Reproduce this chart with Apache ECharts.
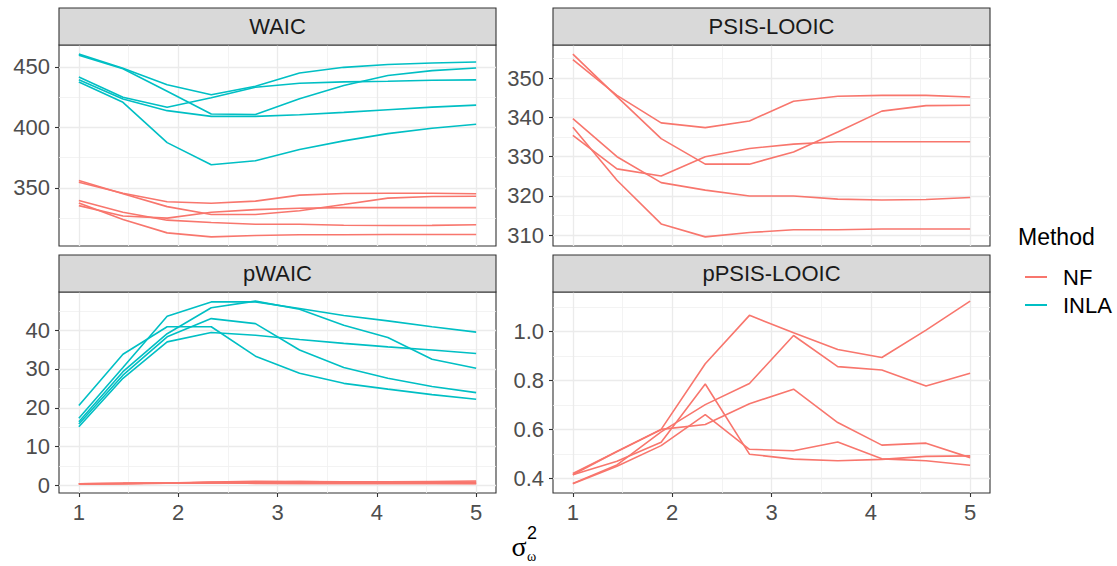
<!DOCTYPE html>
<html>
<head>
<meta charset="utf-8">
<title>Information criteria by sigma</title>
<script src="https://cdn.jsdelivr.net/npm/echarts@6/dist/echarts.min.js"></script>
<style>
  html, body { margin: 0; padding: 0; background: #fff; }
  #chart { width: 1117px; height: 566px; }
</style>
</head>
<body>
<div id="chart"></div>
<script>
// x values (sigma_omega^2), same for every run
const sigma2 = [1, 1.444, 1.889, 2.333, 2.778, 3.222, 3.667, 4.111, 4.556, 5];

// PSIS-LOOIC, NF runs
const psisNF = [
  [356.1, 345.3, 334.6, 328.1, 328.1, 331.2, 336.3, 341.6, 343.0, 343.1],
  [354.7, 345.6, 338.6, 337.4, 339.1, 344.1, 345.4, 345.6, 345.6, 345.2],
  [339.7, 330.0, 323.4, 321.5, 320.0, 320.0, 319.2, 319.0, 319.1, 319.6],
  [335.4, 326.9, 325.1, 330.0, 332.1, 333.2, 333.8, 333.8, 333.8, 333.8],
  [337.5, 324.0, 312.9, 309.6, 310.7, 311.4, 311.4, 311.6, 311.6, 311.6],
];
// WAIC, NF runs (same curves as PSIS-LOOIC in the picture)
const waicNF = psisNF;
// WAIC, INLA runs
const waicINLA = [
  [460.6, 449.0, 435.3, 427.0, 434.0, 445.0, 449.7, 452.0, 453.3, 454.1],
  [459.7, 448.5, 430.0, 411.1, 410.7, 423.7, 434.7, 443.0, 447.0, 449.2],
  [441.7, 425.0, 416.7, 424.6, 433.3, 436.6, 437.7, 438.2, 439.0, 439.3],
  [439.4, 423.6, 413.9, 409.2, 409.2, 410.5, 412.5, 414.7, 416.8, 418.5],
  [437.5, 420.8, 387.5, 369.2, 372.5, 381.8, 388.9, 394.9, 399.3, 402.6],
];
// pPSIS-LOOIC, NF runs
const ppsisNF = [
  [0.415, 0.510, 0.600, 0.868, 1.065, 0.994, 0.926, 0.893, 1.005, 1.123],
  [0.380, 0.455, 0.590, 0.701, 0.787, 0.983, 0.856, 0.842, 0.777, 0.829],
  [0.420, 0.510, 0.600, 0.620, 0.705, 0.764, 0.628, 0.536, 0.544, 0.485],
  [0.415, 0.470, 0.548, 0.785, 0.499, 0.479, 0.472, 0.478, 0.490, 0.492],
  [0.378, 0.450, 0.534, 0.660, 0.519, 0.513, 0.549, 0.480, 0.472, 0.454],
];
// pWAIC, NF runs (flat band near zero)
const pwaicNF = ppsisNF;
// pWAIC, INLA runs
const pwaicINLA = [
  [17.3, 30.4, 43.6, 47.3, 47.3, 45.6, 43.8, 42.4, 40.9, 39.5],
  [20.6, 33.8, 40.9, 40.9, 33.3, 28.9, 26.3, 24.8, 23.4, 22.2],
  [16.4, 29.3, 39.1, 45.8, 47.5, 45.4, 41.3, 38.1, 32.5, 30.2],
  [15.8, 28.4, 38.3, 43.0, 41.7, 34.9, 30.4, 27.6, 25.5, 23.9],
  [15.1, 27.6, 37.0, 39.4, 38.7, 37.6, 36.6, 35.7, 34.9, 34.0],
];

// tick values
const xMajor = [1, 2, 3, 4, 5];
const xMinor = [1.5, 2.5, 3.5, 4.5];
const waicTicks = [350, 400, 450];
const waicMinor = [325, 375, 425];
const psisTicks = [310, 320, 330, 340, 350];
const psisMinor = [315, 325, 335, 345, 355];
const pwaicTicks = [0, 10, 20, 30, 40];
const pwaicMinor = [5, 15, 25, 35, 45];
const ppsisTicks = [0.4, 0.6, 0.8, 1.0];
const ppsisMinor = [0.5, 0.7, 0.9, 1.1];

const colNF = '#F8766D';
const colINLA = '#00BFC4';
const FONT = '"Liberation Sans", Arial, sans-serif';
const STRIP_H = 37;

const panels = [
  { title: 'WAIC', nf: waicNF, inla: waicINLA, ticks: waicTicks, minor: waicMinor, dec: 0,
    left: 59, top: 45, bottom: false },
  { title: 'PSIS-LOOIC', nf: psisNF, inla: [], ticks: psisTicks, minor: psisMinor, dec: 0,
    left: 553, top: 45, bottom: false },
  { title: 'pWAIC', nf: pwaicNF, inla: pwaicINLA, ticks: pwaicTicks, minor: pwaicMinor, dec: 0,
    left: 59, top: 292, bottom: true },
  { title: 'pPSIS-LOOIC', nf: ppsisNF, inla: [], ticks: ppsisTicks, minor: ppsisMinor, dec: 1,
    left: 553, top: 292, bottom: true },
];
const PW = 437, PH = 201;

// ggplot-style 5% expansion
function expand(vals) {
  const lo = Math.min(...vals), hi = Math.max(...vals);
  const pad = (hi - lo) * 0.05;
  return [lo - pad, hi + pad];
}
const xRange = expand(sigma2);

const grids = [], xAxes = [], yAxes = [], series = [], graphics = [];

panels.forEach((p, i) => {
  grids.push({
    left: p.left, top: p.top, width: PW, height: PH,
    show: true, borderColor: '#333333', borderWidth: 1.1, backgroundColor: 'transparent'
  });
  const yRange = expand(p.nf.concat(p.inla).flat());

  // major x axis
  xAxes.push({
    type: 'value', gridIndex: i, min: xRange[0], max: xRange[1], position: 'bottom',
    axisLine: { show: false, onZero: false },
    axisTick: { show: p.bottom, length: 4, customValues: xMajor,
                lineStyle: { color: '#333333', width: 1.1 } },
    axisLabel: { show: p.bottom, customValues: xMajor, margin: 8,
                 fontSize: 22, color: '#4D4D4D', fontFamily: FONT },
    splitLine: { show: true, lineStyle: { color: '#EBEBEB', width: 1.3 } }
  });
  // minor x grid
  xAxes.push({
    type: 'value', gridIndex: i, min: xRange[0], max: xRange[1], position: 'bottom',
    axisLine: { show: false, onZero: false },
    axisTick: { show: false, customValues: xMinor },
    axisLabel: { show: false },
    splitLine: { show: true, lineStyle: { color: '#F0F0F0', width: 0.8 } }
  });
  // major y axis
  yAxes.push({
    type: 'value', gridIndex: i, min: yRange[0], max: yRange[1], position: 'left',
    axisLine: { show: false, onZero: false },
    axisTick: { show: true, length: 4, customValues: p.ticks,
                lineStyle: { color: '#333333', width: 1.1 } },
    axisLabel: { customValues: p.ticks, margin: 9, fontSize: 22, color: '#4D4D4D',
                 fontFamily: FONT, formatter: v => v.toFixed(p.dec) },
    splitLine: { show: true, lineStyle: { color: '#EBEBEB', width: 1.3 } }
  });
  // minor y grid
  yAxes.push({
    type: 'value', gridIndex: i, min: yRange[0], max: yRange[1], position: 'left',
    axisLine: { show: false, onZero: false },
    axisTick: { show: false, customValues: p.minor },
    axisLabel: { show: false },
    splitLine: { show: true, lineStyle: { color: '#F0F0F0', width: 0.8 } }
  });

  const addRun = (name, color) => run => series.push({
    name, type: 'line', xAxisIndex: 2 * i, yAxisIndex: 2 * i,
    data: sigma2.map((x, k) => [x, run[k]]),
    showSymbol: false, symbol: 'none', color,
    lineStyle: { color, width: 1.6 }, silent: true, z: 3
  });
  p.nf.forEach(addRun('NF', colNF));
  p.inla.forEach(addRun('INLA', colINLA));

  // facet strip
  graphics.push({
    type: 'rect', z: 10,
    shape: { x: p.left, y: p.top - STRIP_H, width: PW, height: STRIP_H },
    style: { fill: '#D9D9D9', stroke: '#333333', lineWidth: 1.1 }
  });
  graphics.push({
    type: 'text', z: 11, x: p.left + PW / 2, y: p.top - STRIP_H / 2,
    style: { text: p.title, fill: '#1A1A1A', font: '22px ' + FONT,
             textAlign: 'center', textVerticalAlign: 'middle',
             align: 'center', verticalAlign: 'middle' }
  });
});

// x axis title: sigma_omega^2
graphics.push({
  type: 'text', x: 519, y: 546,
  style: { text: 'σ', fill: '#000', font: '28px "Liberation Serif", serif',
           textAlign: 'center', textVerticalAlign: 'middle', align: 'center', verticalAlign: 'middle' }
});
graphics.push({
  type: 'text', x: 527, y: 533,
  style: { text: '2', fill: '#000', font: '18px ' + FONT,
           textAlign: 'left', textVerticalAlign: 'middle', align: 'left', verticalAlign: 'middle' }
});
graphics.push({
  type: 'text', x: 527, y: 556,
  style: { text: 'ω', fill: '#000', font: '14px "Liberation Serif", serif',
           textAlign: 'left', textVerticalAlign: 'middle', align: 'left', verticalAlign: 'middle' }
});
// legend title
graphics.push({
  type: 'text', x: 1018, y: 237,
  style: { text: 'Method', fill: '#000', font: '23px ' + FONT,
           textAlign: 'left', textVerticalAlign: 'middle', align: 'left', verticalAlign: 'middle' }
});

const chart = echarts.init(document.getElementById('chart'), null, { renderer: 'svg' });
chart.setOption({
  animation: false,
  backgroundColor: '#ffffff',
  grid: grids,
  xAxis: xAxes,
  yAxis: yAxes,
  series: series,
  legend: {
    data: ['NF', 'INLA'],
    orient: 'vertical', left: 1020, top: 261,
    icon: 'rect', itemWidth: 22, itemHeight: 2, itemGap: 6,
    selectedMode: false,
    textStyle: { fontSize: 22, color: '#000', fontFamily: FONT, padding: [0, 0, 0, 11] }
  },
  graphic: graphics
});
</script>
</body>
</html>
